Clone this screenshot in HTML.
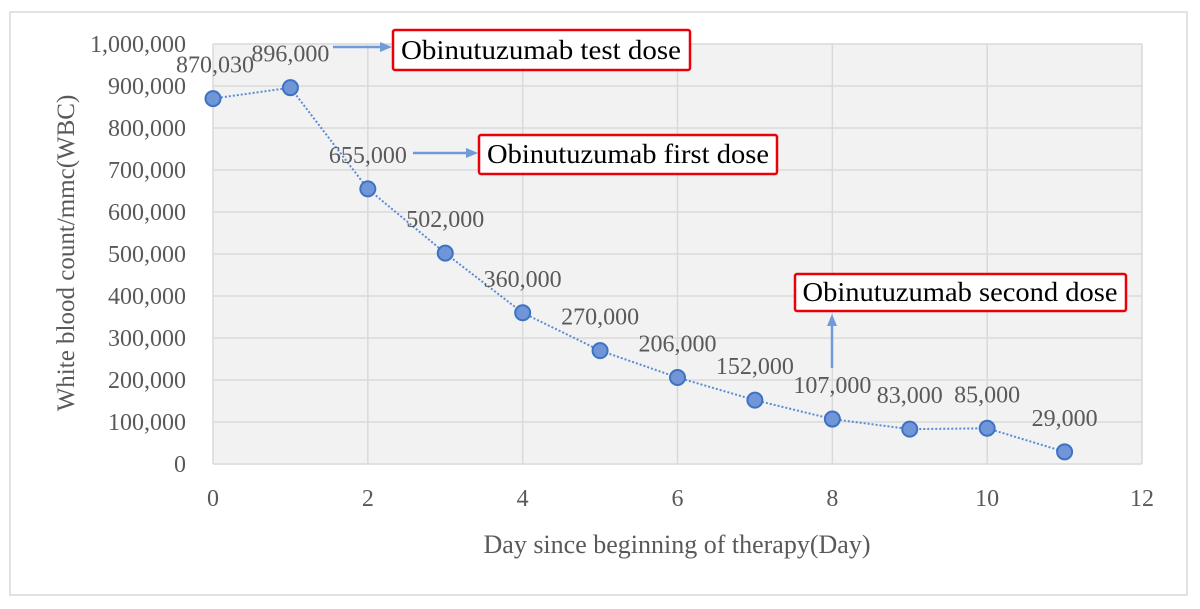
<!DOCTYPE html>
<html><head><meta charset="utf-8"><style>
body{margin:0;background:#fff;}
svg text{font-family:"Liberation Serif",serif;}
</style></head><body>
<svg width="1200" height="604" viewBox="0 0 1200 604">
<rect x="10" y="12" width="1177" height="583" fill="#fff" stroke="#d9d9d9" stroke-width="1.5"/>
<rect x="213" y="44" width="929" height="420" fill="#f2f2f2"/>
<g id="grid"></g><g id="axes"></g><g id="series"></g><g id="labels"></g>
<text x="74" y="253" font-size="25" fill="#595959" text-anchor="middle" transform="rotate(-90 74 253)">White blood count/mmc(WBC)</text>
<text x="677" y="553" font-size="26" fill="#595959" text-anchor="middle">Day since beginning of therapy(Day)</text>
<g>
<line x1="333" y1="47" x2="382" y2="47" stroke="#6f9bd8" stroke-width="2.5"/><polygon points="392,47 380,42 380,52" fill="#6f9bd8"/>
<rect x="393" y="30" width="297" height="40" fill="#fff" stroke="#e8000b" stroke-width="2.5" rx="2"/>
<text x="541" y="59" font-size="27" fill="#000" text-anchor="middle" textLength="280" lengthAdjust="spacingAndGlyphs">Obinutuzumab test dose</text></g>
<g>
<line x1="413" y1="153" x2="468" y2="153" stroke="#6f9bd8" stroke-width="2.5"/><polygon points="478,153 466,148 466,158" fill="#6f9bd8"/>
<rect x="479" y="135" width="298" height="39" fill="#fff" stroke="#e8000b" stroke-width="2.5" rx="2"/>
<text x="628" y="163" font-size="27" fill="#000" text-anchor="middle" textLength="282" lengthAdjust="spacingAndGlyphs">Obinutuzumab first dose</text></g>
<g>
<line x1="832" y1="368" x2="832" y2="324" stroke="#6f9bd8" stroke-width="2.5"/><polygon points="832,314 827,326 837,326" fill="#6f9bd8"/>
<rect x="795" y="274" width="331" height="37" fill="#fff" stroke="#e8000b" stroke-width="2.5" rx="2"/>
<text x="960" y="301" font-size="27" fill="#000" text-anchor="middle" textLength="315" lengthAdjust="spacingAndGlyphs">Obinutuzumab second dose</text></g>
</svg>
<script>
const days=[0,1,2,3,4,5,6,7,8,9,10,11];
const wbc=[870030,896000,655000,502000,360000,270000,206000,152000,107000,83000,85000,29000];
const pointLabels=["870,030","896,000","655,000","502,000","360,000","270,000","206,000","152,000","107,000","83,000","85,000","29,000"];
const yTicks=[0,100000,200000,300000,400000,500000,600000,700000,800000,900000,1000000];
const yTickLabels=["0","100,000","200,000","300,000","400,000","500,000","600,000","700,000","800,000","900,000","1,000,000"];
const xTicks=[0,2,4,6,8,10,12];
const NS="http://www.w3.org/2000/svg";
const X=d=>213+d*(929/12), Y=v=>464-v*420/1000000;
function mk(p,t,a){const e=document.createElementNS(NS,t);for(const k in a)e.setAttribute(k,a[k]);document.getElementById(p).appendChild(e);return e;}
yTicks.forEach((v,i)=>{
 const l=mk('grid','line',{x1:213,x2:1142,y1:Y(v),y2:Y(v),stroke:'#d9d9d9','stroke-width':1.5});
 
 
 const t=mk('axes','text',{x:186,y:Y(v)+8,'font-size':24,fill:'#595959','text-anchor':'end'});t.textContent=yTickLabels[i];
 
 
});
xTicks.forEach(d=>{
 const l=mk('grid','line',{x1:X(d),x2:X(d),y1:44,y2:464,stroke:'#d9d9d9','stroke-width':1.5});
 
 
 const t=mk('axes','text',{x:X(d),y:506,'font-size':24,fill:'#595959','text-anchor':'middle'});t.textContent=d;
 
 
});
const pl=mk('series','polyline',{points:days.map((d,i)=>X(d)+','+Y(wbc[i])).join(' '),fill:'none',stroke:'#5b8bd5','stroke-width':2,'stroke-dasharray':'2,2'});


days.forEach((d,i)=>{
 const c=mk('series','circle',{cx:X(d),cy:Y(wbc[i]),r:7.5,fill:'#7196d8',stroke:'#3d72c4','stroke-width':2});
 
 
 const t=mk('labels','text',{x:X(d)+(i==0?2:0),y:Y(wbc[i])-26,'font-size':24,fill:'#595959','text-anchor':'middle'});t.textContent=pointLabels[i];
 
 
});
</script>
</body></html>
